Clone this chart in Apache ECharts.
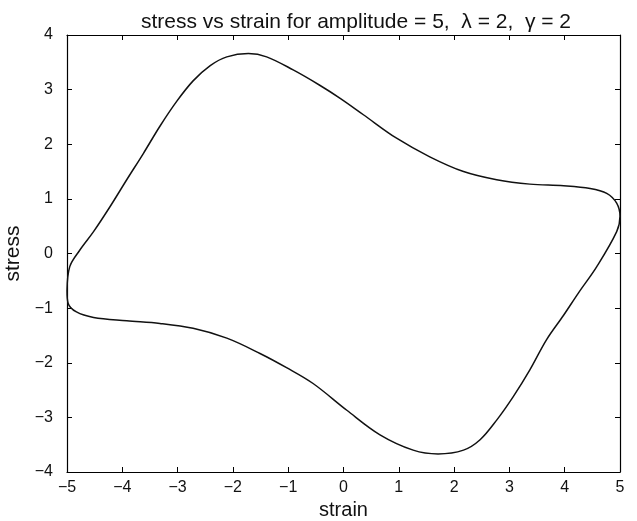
<!DOCTYPE html>
<html>
<head>
<meta charset="utf-8">
<script src="https://cdn.jsdelivr.net/npm/echarts@6/dist/echarts.min.js"></script>
<style>
  html, body { margin: 0; padding: 0; background: #fff; }
  #chart { width: 637px; height: 521px; }
</style>
</head>
<body>
<div id="chart"></div>
<script type="text/javascript">
    // upper branch of the loop, left edge -> right edge
    var upperStrain = [-5.00, -4.95, -4.77, -4.52, -4.22, -3.92, -3.62, -3.32, -3.02, -2.72, -2.41, -2.11, -1.72, -1.39, -0.91, -0.43, -0.06, 0.36, 0.96, 1.56, 2.17, 2.77, 3.37, 3.98, 4.46, 4.76, 4.94, 5.00];
    var upperStress = [-0.68, -0.24, 0.06, 0.40, 0.86, 1.35, 1.83, 2.33, 2.78, 3.16, 3.44, 3.60, 3.66, 3.60, 3.36, 3.08, 2.84, 2.54, 2.11, 1.77, 1.50, 1.35, 1.27, 1.24, 1.19, 1.10, 0.92, 0.68];
    // lower branch, right edge -> back to left edge
    var lowerStrain = [4.94, 4.58, 4.25, 3.98, 3.67, 3.37, 3.07, 2.77, 2.47, 2.17, 1.71, 1.26, 0.66, 0.06, -0.55, -1.03, -1.51, -2.11, -2.72, -3.32, -3.92, -4.52, -4.83, -4.98, -5.00];
    var lowerStress = [0.40, -0.24, -0.72, -1.13, -1.58, -2.13, -2.62, -3.05, -3.41, -3.60, -3.67, -3.60, -3.32, -2.87, -2.38, -2.09, -1.83, -1.55, -1.37, -1.28, -1.23, -1.17, -1.07, -0.91, -0.68];

    var xTicks = [-5, -4, -3, -2, -1, 0, 1, 2, 3, 4, 5];
    var yTicks = [-4, -3, -2, -1, 0, 1, 2, 3, 4];

    var loop = [];
    for (var i = 0; i < upperStrain.length; i++) loop.push([upperStrain[i], upperStress[i]]);
    for (var j = 0; j < lowerStrain.length; j++) loop.push([lowerStrain[j], lowerStress[j]]);

    var fnt = 'Liberation Sans, Arial, sans-serif';
    var minus = function (v) { return String(v).replace('-', '\u2212'); };
    var boxLine = { onZero: false, lineStyle: { color: '#000', width: 1.2 } };
    var inTick = { inside: true, length: 5, lineStyle: { color: '#000' } };

    var myChart = echarts.init(document.getElementById('chart'));
    var option = {
        animation: false,
        title: {
            text: 'stress vs strain for amplitude = 5,  \u03bb = 2,  \u03b3 = 2',
            left: 351,
            textAlign: 'center',
            top: 7,
            textStyle: { fontFamily: fnt, fontSize: 21, fontWeight: 'normal', color: '#111' }
        },
        grid: { left: 67, right: 17, top: 35, bottom: 49, containLabel: false, outerBoundsMode: 'none' },
        xAxis: [
            {
                type: 'value', min: xTicks[0], max: xTicks[xTicks.length - 1], interval: 1,
                name: 'strain', nameLocation: 'middle', nameGap: 26,
                nameTextStyle: { fontFamily: fnt, fontSize: 20, color: '#111' },
                axisLine: boxLine,
                axisTick: inTick,
                axisLabel: { fontFamily: fnt, fontSize: 16, color: '#111', margin: 8, formatter: minus },
                splitLine: { show: false }
            },
            {
                type: 'value', position: 'top', min: xTicks[0], max: xTicks[xTicks.length - 1], interval: 1,
                axisLine: boxLine,
                axisTick: inTick,
                axisLabel: { show: false },
                splitLine: { show: false }
            }
        ],
        yAxis: [
            {
                type: 'value', min: yTicks[0], max: yTicks[yTicks.length - 1], interval: 1,
                name: 'stress', nameLocation: 'middle', nameGap: 34,
                nameTextStyle: { fontFamily: fnt, fontSize: 21, color: '#111' },
                axisLine: boxLine,
                axisTick: inTick,
                axisLabel: { fontFamily: fnt, fontSize: 16, color: '#111', margin: 14, formatter: minus },
                splitLine: { show: false }
            },
            {
                type: 'value', position: 'right', min: yTicks[0], max: yTicks[yTicks.length - 1], interval: 1,
                axisLine: boxLine,
                axisTick: inTick,
                axisLabel: { show: false },
                splitLine: { show: false }
            }
        ],
        series: [
            {
                name: 'stress',
                type: 'line',
                data: loop,
                smooth: 0.35,
                showSymbol: false,
                clip: true,
                lineStyle: { color: '#111', width: 1.5 }
            }
        ]
    };
    myChart.setOption(option);
</script>
</body>
</html>
